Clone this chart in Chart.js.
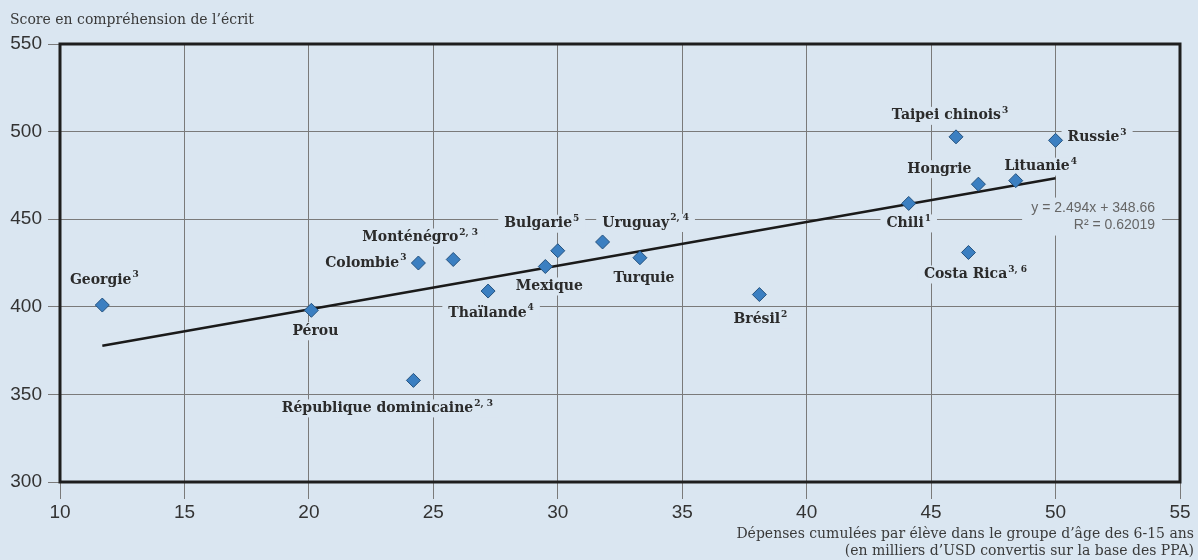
<!DOCTYPE html>
<html>
<head>
<meta charset="utf-8">
<script src="https://cdn.jsdelivr.net/npm/chart.js@4"></script>
<style>
  html, body { margin: 0; padding: 0; background: #dae6f1; }
  #wrap { width: 1198px; height: 560px; }
</style>
</head>
<body>
<div id="wrap"><canvas id="chart" width="1198" height="560"></canvas></div>
<script>
// data
const countries = ['Georgie', 'Pérou', 'République dominicaine', 'Colombie', 'Monténégro', 'Thaïlande',
    'Mexique', 'Bulgarie', 'Uruguay', 'Turquie', 'Brésil', 'Chili', 'Taipei chinois', 'Hongrie',
    'Lituanie', 'Russie', 'Costa Rica'];
const notes = ['3', '', '2, 3', '3', '2, 3', '4', '', '5', '2, 4', '', '2', '1', '3', '', '4', '3', '3, 6'];
const spending = [11.7, 20.1, 24.2, 24.4, 25.8, 27.2, 29.5, 30.0, 31.8, 33.3, 38.1, 44.1, 46.0, 46.9, 48.4, 50.0, 46.5];
const scores = [401, 398, 358, 425, 427, 409, 423, 432, 437, 428, 407, 459, 497, 470, 472, 495, 431];

// trend line ends (y = 2.494x + 348.66)
const trendX = [11.7, 50.0];
const trendY = [377.8, 473.4];
const equation = ['y = 2.494x + 348.66', 'R² = 0.62019'];

const xTicks = [10, 15, 20, 25, 30, 35, 40, 45, 50, 55];
const yTicks = [300, 350, 400, 450, 500, 550];

const yTitle = 'Score en compréhension de l’écrit';
const xTitle = ['Dépenses cumulées par élève dans le groupe d’âge des 6-15 ans',
    '(en milliers d’USD convertis sur la base des PPA)'];

// label placement relative to each point: [dx, dy, align]
const labelPos = {
    'Georgie': [2, -25, 'center'],
    'Pérou': [4, 21, 'center'],
    'République dominicaine': [-26, 28, 'center'],
    'Colombie': [-12, 0, 'right'],
    'Monténégro': [-33, -22, 'center'],
    'Thaïlande': [3, 22, 'center'],
    'Mexique': [4, 20, 'center'],
    'Bulgarie': [-16, -27, 'center'],
    'Uruguay': [43, -19, 'center'],
    'Turquie': [4, 21, 'center'],
    'Brésil': [1, 25, 'center'],
    'Chili': [0, 20, 'center'],
    'Taipei chinois': [-6, -21, 'center'],
    'Hongrie': [-39, -15, 'center'],
    'Lituanie': [25, -14, 'center'],
    'Russie': [12, -3, 'left'],
    'Costa Rica': [7, 22, 'center']
};

const BG = '#dae6f1';
const LABEL_FONT = 'bold 14px "DejaVu Serif"';
const SUP_FONT = 'bold 9px "DejaVu Serif"';

const bgPlugin = {
    id: 'bg',
    beforeDraw(chart) {
        const c = chart.ctx;
        c.save();
        c.fillStyle = BG;
        c.fillRect(0, 0, chart.width, chart.height);
        c.restore();
    }
};

const labelPlugin = {
    id: 'labels',
    beforeDatasetsDraw(chart) {
        const c = chart.ctx;
        const pts = chart.getDatasetMeta(0).data;
        c.save();
        c.textBaseline = 'middle';
        countries.forEach((name, i) => {
            const p = pts[i];
            const [dx, dy, align] = labelPos[name];
            c.font = LABEL_FONT;
            const w1 = c.measureText(name).width;
            c.font = SUP_FONT;
            const w2 = notes[i] ? c.measureText(notes[i]).width + 1 : 0;
            const w = w1 + w2;
            let x0 = p.x + dx - w / 2;
            if (align === 'right') x0 = p.x + dx - w;
            if (align === 'left') x0 = p.x + dx;
            const y = p.y + dy;
            c.fillStyle = BG;
            c.fillRect(x0 - 6, y - 9, w + 12, 18);
            c.fillStyle = '#2b2b2b';
            c.textAlign = 'left';
            c.font = LABEL_FONT;
            c.fillText(name, x0, y);
            if (notes[i]) {
                c.font = SUP_FONT;
                c.fillText(notes[i], x0 + w1 + 1, y - 5);
            }
        });
        // regression equation
        const xs = chart.scales.x, ys = chart.scales.y;
        const ex = xs.getPixelForValue(54);
        const ey = ys.getPixelForValue(451.5);
        c.font = '14px "Liberation Sans"';
        c.fillStyle = BG;
        c.fillRect(ex - 133, ey - 19, 140, 38);
        c.fillStyle = '#666';
        c.textAlign = 'right';
        c.fillText(equation[0], ex, ey - 8);
        c.fillText(equation[1], ex, ey + 9);
        c.restore();
    },
    afterDraw(chart) {
        const c = chart.ctx;
        const a = chart.chartArea;
        c.save();
        c.strokeStyle = '#1e1e1e';
        c.lineWidth = 3;
        c.strokeRect(a.left, a.top, a.right - a.left, a.bottom - a.top);
        c.fillStyle = '#3a3a3a';
        c.font = '14px "DejaVu Serif"';
        c.textBaseline = 'middle';
        c.textAlign = 'left';
        c.fillText(yTitle, 10, 20);
        c.textAlign = 'right';
        c.fillText(xTitle[0], 1194, 534);
        c.fillText(xTitle[1], 1194, 551);
        c.restore();
    }
};

new Chart(document.getElementById('chart').getContext('2d'), {
    type: 'scatter',
    data: {
        datasets: [{
            label: 'Pays',
            data: spending.map((x, i) => ({ x: x, y: scores[i] })),
            pointStyle: 'rectRot',
            pointRadius: 7,
            backgroundColor: '#3b7fc1',
            borderColor: '#24527f',
            borderWidth: 1,
            order: 0
        }, {
            type: 'line',
            label: 'Tendance',
            data: trendX.map((x, i) => ({ x: x, y: trendY[i] })),
            borderColor: '#1a1a1a',
            borderWidth: 2.5,
            pointRadius: 0,
            fill: false,
            order: 1
        }]
    },
    options: {
        responsive: false,
        animation: false,
        layout: { padding: { top: 44, right: 18, left: 0, bottom: 0 } },
        plugins: {
            legend: { display: false },
            tooltip: { enabled: false }
        },
        scales: {
            x: {
                type: 'linear',
                min: 10,
                max: 55,
                afterBuildTicks: s => { s.ticks = xTicks.map(v => ({ value: v })); },
                afterFit: s => { s.height = 78; },
                grid: { color: '#7a7a7a', lineWidth: 1, tickLength: 17, tickColor: '#7a7a7a' },
                border: { display: false },
                ticks: {
                    color: '#333',
                    padding: 2,
                    font: { family: 'Liberation Sans', size: 19 }
                }
            },
            y: {
                min: 300,
                max: 550,
                afterBuildTicks: s => { s.ticks = yTicks.map(v => ({ value: v })); },
                afterFit: s => { s.width = 60; },
                grid: { color: '#7a7a7a', lineWidth: 1, tickLength: 12, tickColor: '#7a7a7a' },
                border: { display: false },
                ticks: {
                    color: '#333',
                    padding: 6,
                    font: { family: 'Liberation Sans', size: 19 }
                }
            }
        }
    },
    plugins: [bgPlugin, labelPlugin]
});
</script>
</body>
</html>
